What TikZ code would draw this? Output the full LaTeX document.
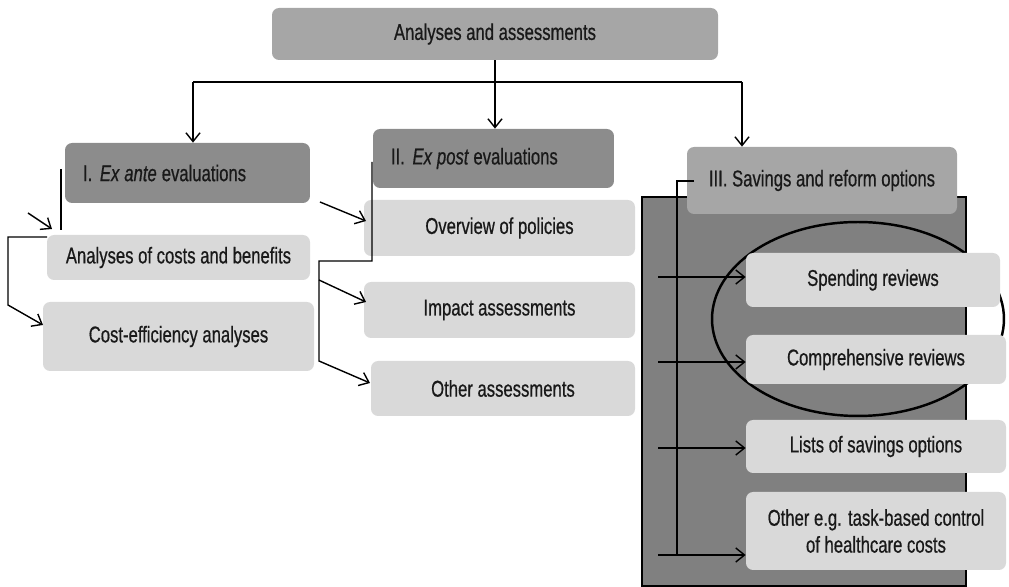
\documentclass[tikz,border=0pt]{standalone}
\usepackage{fontspec}
\setmainfont{Liberation Sans}[FakeStretch=0.73, FakeBold=0.6,
  ItalicFeatures={FakeStretch=0.73, FakeBold=0.6}]
\usetikzlibrary{arrows.meta}

\begin{document}
\begin{tikzpicture}[x=0.02cm, y=-0.02cm,
  box/.style={rounded corners=4pt, inner sep=2pt, align=center, text=black!90,
    font=\fontsize{13}{15.3}\selectfont},
  boxsize/.style 2 args={minimum width=#1*0.02cm, minimum height=#2*0.02cm},
  lightbox/.style={box, fill=black!15},
  midbox/.style={box, fill=black!35},
  darkbox/.style={box, fill=black!45, inner xsep=0.36cm, align=left},
  link/.style={line width=0.8pt},
  arr/.style={link, -{Straight Barb[length=5pt,width=8pt]}}]
			%%%%% START %%%%%
			\useasboundingbox (0,0) rectangle (1009,587);
			
			% dark panel and ellipse behind group III
			\draw[line width=1.4pt, fill=black!50] (642,197) rectangle (966,586);
			\draw[line width=1.4pt] (858,319) ellipse [x radius=2.92cm, y radius=1.94cm];
			
			% headers
			\node[midbox, boxsize={446}{52}] (top) at (495,34) {Analyses and assessments};
			\node[darkbox, minimum height=60*0.02cm, text width=4.18cm] (exante) at (187.5,173) {I. {\itshape Ex\kern-1.5pt{} ante}\kern-1.5pt{} evaluations};
			\node[darkbox, minimum height=59*0.02cm, text width=4.1cm] (expost) at (493.5,158.5) {II. {\itshape Ex\kern-1.5pt{} post}\kern-1.5pt{} evaluations};
			\node[midbox, boxsize={270}{67}] (savings) at (822,180.5) {III. Savings and reform options};
			
			% group I
			\node[lightbox, boxsize={263}{45}] (costben) at (178.5,257.5) {Analyses of costs and benefits};
			\node[lightbox, boxsize={271}{69}] (costeff) at (178.5,336.5) {Cost-efficiency analyses};
			
			% group II
			\node[lightbox, boxsize={271}{56}] (overview) at (499.5,228) {Overview of policies};
			\node[lightbox, boxsize={271}{56}] (impact) at (499.5,310) {Impact assessments};
			\node[lightbox, boxsize={264}{55}] (otherass) at (503,388.5) {Other assessments};
			
			% group III
			\node[lightbox, boxsize={254}{54}] (spending) at (873,280) {Spending reviews};
			\node[lightbox, boxsize={260}{49}] (comprehensive) at (876,359.5) {Comprehensive reviews};
			\node[lightbox, boxsize={260}{53}] (lists) at (876,446.5) {Lists of savings options};
			\node[lightbox, boxsize={260}{78}] (otherhc) at (876,531) {Other e.g. task-based control\\of healthcare costs};
			
			% top bus
			\coordinate (busL) at (193,82);
			\coordinate (busR) at (742,82);
			\draw[link] (busL) -- (busR);
			\draw[arr] (top.south) -- (top.south |- expost.north);
			\draw[arr] (busL) -- (busL |- exante.north);
			\draw[arr] (busR) -- (busR |- savings.north);
			
			% links of group I
			\coordinate (exA) at (61,169);
			\coordinate (exB) at (61,230);
			\coordinate (inA) at (28,213);
			\coordinate (inB) at (52,229);
			\coordinate (brA) at (47,237);
			\coordinate (brB) at (43,325);
			\draw[link] (exA) -- (exB);
			\draw[arr] (inA) -- (inB);
			\draw[arr] (brA) -- (8,237) -- (8,305) -- (brB);
			
			% links of group II
			\coordinate (epA) at (372,162);
			\coordinate (epB) at (370,383);
			\coordinate (ovA) at (320,202);
			\coordinate (ovB) at (366,221);
			\coordinate (imA) at (319,280);
			\coordinate (imB) at (366,302);
			\draw[arr] (epA) -- (372,261) -- (319,261) -- (319,361) -- (epB);
			\draw[arr] (ovA) -- (ovB);
			\draw[arr] (imA) -- (imB);
			
			% links of group III
			\coordinate (svA) at (694,181);
			\draw[line width=1.4pt] (svA) -- (677,181) -- (677,555);
			\foreach \y/\t in {277/spending, 362/comprehensive, 448/lists, 555/otherhc}
			  \draw[arr] (658,\y) -- (\t.west |- 0,\y);
			
			%%%%% END %%%%%
\end{tikzpicture}
\end{document}
